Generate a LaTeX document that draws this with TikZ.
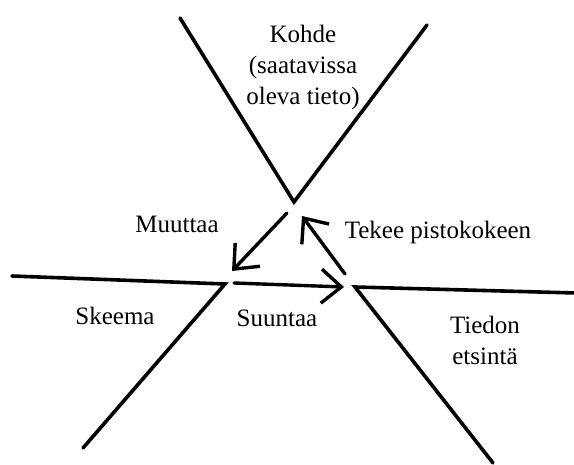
\documentclass[tikz,border=0pt]{standalone}
\usepackage{fontspec}
\setmainfont{Liberation Serif}
\usetikzlibrary{arrows.meta}
\begin{document}
\begin{tikzpicture}[x=1pt,y=-1pt,
    wedge/.style={line width=3.6pt,line cap=round,line join=miter},
    flow/.style={line width=3.4pt,line cap=round,-{Straight Barb[length=20pt,width=34pt,line width=3.4pt]}},
    lbl/.style={font=\fontsize{25}{31}\selectfont,align=center,inner sep=0pt}]
  \useasboundingbox (0,0) rectangle (574,465);

  % Corner points of the three wedges
  \coordinate (kL) at (180,18);
  \coordinate (kA) at (294,202);
  \coordinate (kR) at (427,25);
  \coordinate (sL) at (12,276);
  \coordinate (sA) at (225,284);
  \coordinate (sB) at (83,448);
  \coordinate (tA) at (355,287);
  \coordinate (tR) at (576,293);
  \coordinate (tB) at (493,463);

  % Wedges
  \draw[wedge] (kL) -- (kA) -- (kR);
  \draw[wedge] (sL) -- (sA) -- (sB);
  \draw[wedge] (tR) -- (tA) -- (tB);

  % Arrow end points
  \coordinate (m1) at (287,213);
  \coordinate (m2) at (232,271);
  \coordinate (s1) at (234,283);
  \coordinate (s2) at (344,287);
  \coordinate (t1) at (345,274);
  \coordinate (t2) at (302,216);

  \draw[flow] (m1) -- (m2);
  \draw[flow] (s1) -- (s2);
  \draw[flow] (t1) -- (t2);

  % Labels
  \node[lbl] (kohde) at (303,67) {Kohde\\(saatavissa\\oleva tieto)};
  \node[lbl] (muuttaa) at (177,224) {Muuttaa};
  \node[lbl] (tekee) at (438,232) {Tekee pistokokeen};
  \node[lbl] (skeema) at (115,316) {Skeema};
  \node[lbl] (suuntaa) at (277,318) {Suuntaa};
  \node[lbl] (tiedon) at (485,340) {Tiedon\\etsintä};
\end{tikzpicture}
\end{document}
